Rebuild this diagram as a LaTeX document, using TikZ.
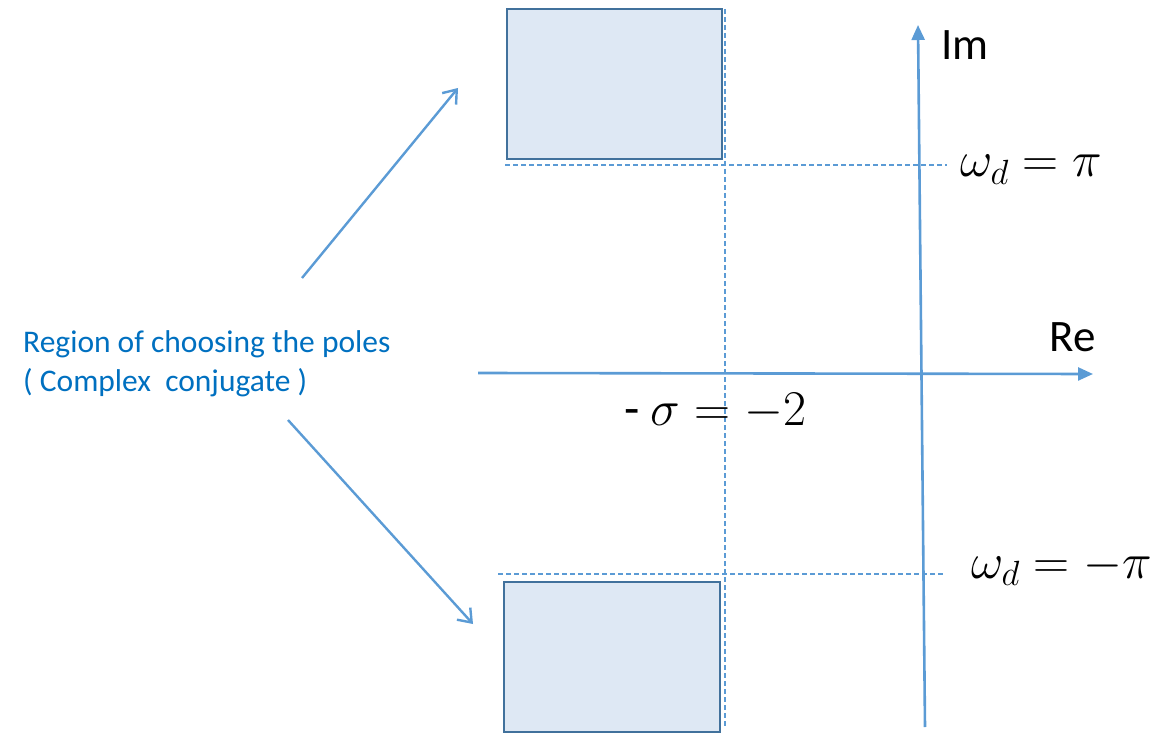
\RequirePackage{fix-cm}
\documentclass[tikz,border=0pt]{standalone}
\usepackage{fontspec}
\setmainfont{Carlito}
\usetikzlibrary{arrows.meta}
\definecolor{axisblue}{HTML}{5B9BD5}
\definecolor{boxedge}{HTML}{41719C}
\definecolor{boxfill}{HTML}{DEE8F4}
\definecolor{txtblue}{HTML}{0070C0}
\tikzset{
  axis/.style={draw=axisblue, line width=2.6pt, -{Triangle[length=15pt,width=13pt]}},
  pointer/.style={draw=axisblue, line width=2.4pt, -{Straight Barb[length=12pt,width=18pt]}},
  guide/.style={draw=axisblue, line width=1.1pt, dash pattern=on 5pt off 3pt},
  region/.style={draw=boxedge, fill=boxfill, line width=2.6pt},
  axlabel/.style={font=\fontsize{45}{48}\selectfont, text=black, inner sep=0pt},
  mlabel/.style={font=\fontsize{50}{52}\selectfont, text=black, inner sep=0pt},
  note/.style={font=\fontsize{31.5}{34}\selectfont, text=txtblue, inner sep=0pt, anchor=west},
}
\begin{document}
\begin{tikzpicture}[x=1pt,y=-1pt]
\useasboundingbox (0,0) rectangle (1173,733);
% regions
\draw[region] (507,9) rectangle (722,159);
\draw[region] (504,582) rectangle (720,732);
% guides
\coordinate (gv1) at (725,9);
\coordinate (gv2) at (725,728);
\draw[guide] (gv1) -- (gv2);
\coordinate (gh1a) at (505,165);
\coordinate (gh1b) at (947,165);
\draw[guide] (gh1a) -- (gh1b);
\coordinate (gh2a) at (498,574);
\coordinate (gh2b) at (945,574);
\draw[guide] (gh2a) -- (gh2b);
% axes
\coordinate (im0) at (925,727);
\coordinate (im1) at (918,25);
\draw[axis] (im0) -- (im1);
\coordinate (re0) at (478,373);
\coordinate (re1) at (1093,374);
\draw[axis] (re0) -- (re1);
% labels
\node[axlabel] (imlab) at (965,45) {Im};
\node[axlabel] (relab) at (1073,337) {Re};
\node[mlabel, anchor=base west] (wpos) at (960,177) {$\omega_d = \pi$};
\node[mlabel, anchor=base west] (wneg) at (971,578) {$\omega_d = -\pi$};
\node[mlabel, anchor=base west] (sig) at (624,425) {- $\sigma = -2$};
% note
\node[note] (n1) at (23,344) {Region of choosing the poles};
\node[note] (n2) at (23,383) {( Complex\ \ conjugate )};
% pointers
\coordinate (p1s) at (302,278);
\coordinate (p1e) at (458,88);
\draw[pointer] (p1s) -- (p1e);
\coordinate (p2s) at (288,420);
\coordinate (p2e) at (473,624);
\draw[pointer] (p2s) -- (p2e);
\end{tikzpicture}
\end{document}
